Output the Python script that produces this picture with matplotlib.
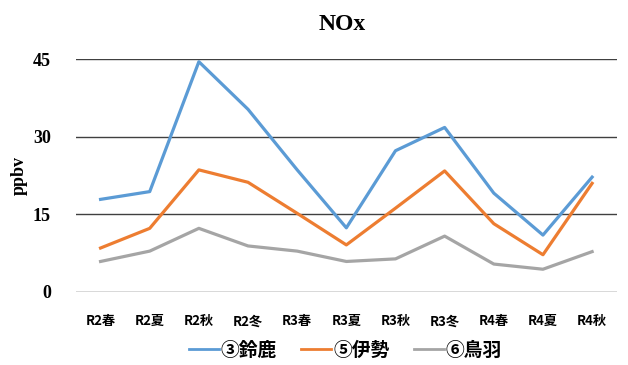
import matplotlib
matplotlib.use("Agg")
import matplotlib.pyplot as plt

categories = ["R2春", "R2夏", "R2秋", "R2冬", "R3春", "R3夏", "R3秋", "R3冬", "R4春", "R4夏", "R4秋"]
suzuka = [17.9, 19.4, 44.5, 35.3, 23.6, 12.4, 27.3, 31.8, 19.1, 11.0, 22.2]
ise = [8.5, 12.3, 23.6, 21.2, 15.2, 9.1, 16.2, 23.4, 13.2, 7.2, 21.0]
toba = [5.9, 7.9, 12.3, 8.9, 7.9, 5.9, 6.4, 10.8, 5.4, 4.4, 7.8]
series_names = ["③鈴鹿", "⑤伊勢", "⑥鳥羽"]
yticks = [0, 15, 30, 45]

colors = ["#5B9BD5", "#ED7D31", "#A5A5A5"]

fig = plt.figure(figsize=(6.28, 3.65), dpi=100)
ax = fig.add_axes([0.121, 0.2, 0.861, 0.638])

x = list(range(len(categories)))
for vals, name, c in zip([suzuka, ise, toba], series_names, colors):
    ax.plot(x, vals, color=c, lw=2.3, label=name)

ax.set_xlim(-0.5, len(categories) - 0.5)
ax.set_ylim(0, 45)
ax.set_yticks(yticks)
for yv in yticks:
    ax.axhline(yv, color="#404040", lw=1.0, zorder=0)
for s in ax.spines.values():
    s.set_visible(False)
ax.tick_params(axis="both", length=0)
ax.set_xticks(x)
ax.set_xticklabels(categories, family=["Noto Sans CJK JP", "DejaVu Sans"], fontsize=9.5, fontweight="bold")
ax.tick_params(axis="x", pad=16)
ax.tick_params(axis="y", pad=18)
for lab in ax.get_yticklabels():
    lab.set_family("Liberation Serif")
    lab.set_fontweight("bold")
    lab.set_fontsize(13)
ax.set_ylabel("ppbv", family="Liberation Serif", fontweight="bold", fontsize=13, labelpad=4)
fig.text(0.545, 0.932, "NOx", ha="center", va="center", family="Liberation Serif", fontweight="bold", fontsize=17)

leg = fig.legend(loc="center", bbox_to_anchor=(0.55, 0.04), ncol=3, frameon=False,
                 prop={"family": ["Noto Sans CJK JP", "DejaVu Sans"], "size": 13.5, "weight": "bold"},
                 handlelength=1.6, handletextpad=0.1, columnspacing=1.3)
for l in leg.get_lines():
    l.set_linewidth(2.0)

fig.savefig("out.png", dpi=100)
